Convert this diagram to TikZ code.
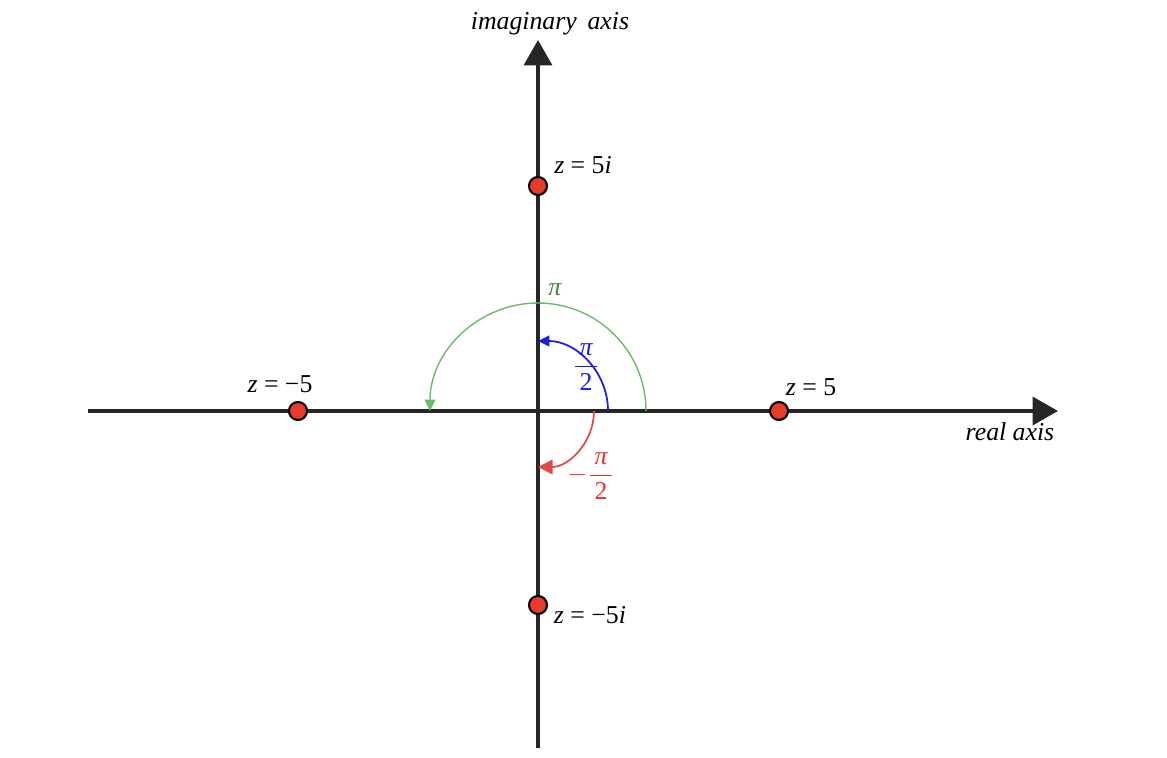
\documentclass[tikz,border=0pt]{standalone}
\usepackage{amsmath}
\usepackage{fontspec}
\setmainfont{Liberation Serif}
\usetikzlibrary{arrows.meta}
\usepackage{xcolor}
\definecolor{axisgray}{HTML}{262626}
\definecolor{pointred}{HTML}{EA3A2C}
\definecolor{arcgreen}{HTML}{6DBA6D}
\definecolor{labelgreen}{HTML}{3A8A3A}
\definecolor{arcblue}{HTML}{1C1CE8}
\definecolor{arcred}{HTML}{E04A4A}
\definecolor{labelred}{HTML}{E8342E}
\newcommand{\halfpifrac}{\genfrac{}{}{0.6pt}{0}{\mbox{\,\itshape π\,}}{\mbox{\,2\,}}}

\begin{document}
\begin{tikzpicture}[x=0.015cm,y=0.015cm,font=\fontsize{11}{13}\selectfont,
  axis/.style={draw=axisgray,line width=1.4pt,-{Triangle[length=0.38cm,width=0.42cm]}},
  cpoint/.style={circle,draw=black,line width=0.9pt,fill=pointred,minimum size=0.27cm,inner sep=0pt},
  anglearc/.style={line width=0.6pt,-{Triangle[length=0.17cm,width=0.16cm]}}]
\useasboundingbox (-538,-346) rectangle (629,411);
\coordinate (o) at (0,0);
\coordinate (west) at (-450,0);
\coordinate (east) at (520,0);
\coordinate (south) at (0,-337);
\coordinate (north) at (0,371);
\draw[axis] (west)--(east);
\draw[axis] (south)--(north);
\node at (472,-21) (real) {\textit{real axis}};
\node at (12,387) (imag) {\textit{imaginary\, axis}};
% angles
\draw[anglearc,draw=arcgreen] (108,0) arc[start angle=0,end angle=180,radius=108];
\draw[anglearc,draw=arcblue,line width=0.75pt] (70,0) arc[start angle=0,end angle=90,radius=70];
\draw[anglearc,draw=arcred,line width=0.75pt,-{Triangle[length=0.22cm,width=0.22cm]}] (56,0) arc[start angle=0,end angle=-90,radius=56];
\node[text=labelgreen] at (17,121) (pi) {\textit{π}};
\node[text=arcblue] at (48,44) (halfpi) {$\halfpifrac$};
\node[text=labelred] at (53,-65) (mhalfpi) {$-\halfpifrac$};
% points
\node[cpoint] at (0,225) (p5i) {};
\node[cpoint] at (0,-194) (pm5i) {};
\node[cpoint] at (-240,0) (pm5) {};
\node[cpoint] at (241,0) (p5) {};
\node at (45,246) {\textit{z} = 5\textit{i}};
\node at (52,-204) {\textit{z} = −5\textit{i}};
\node at (-258,27) {\textit{z} = −5};
\node at (273,24) {\textit{z} = 5};
\end{tikzpicture}
\end{document}
